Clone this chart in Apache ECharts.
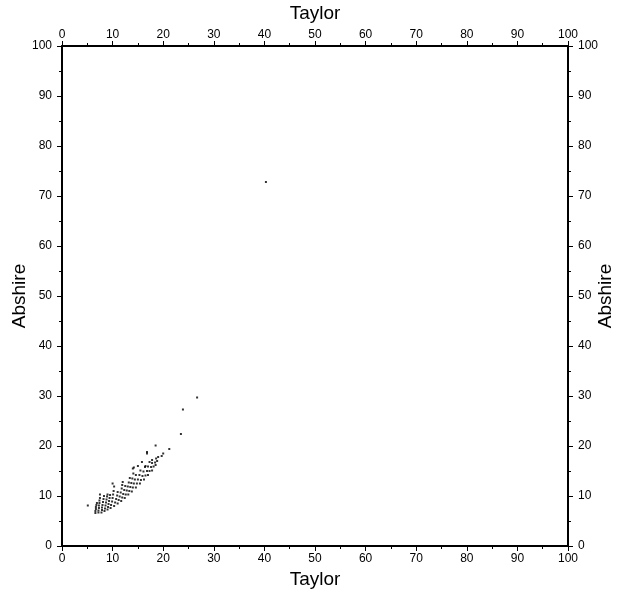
<!DOCTYPE html>
<html>
<head>
<meta charset="utf-8">
<script src="https://cdn.jsdelivr.net/npm/echarts@6/dist/echarts.min.js"></script>
<style>
  html, body { margin: 0; padding: 0; background: #fff; }
  #chart { width: 620px; height: 598px; }
</style>
</head>
<body>
<div id="chart"></div>
<script>
// Axis settings
const xTitle = 'Taylor';
const yTitle = 'Abshire';
const axisMin = 0;
const axisMax = 100;
const tickStep = 10;

// Paired measurements [Taylor, Abshire]
const pairs = [
  [6.6,6.6],[6.6,7.0],[6.7,7.4],[6.7,7.8],[6.8,8.2],[6.9,8.6],
  [7.2,6.7],[7.2,7.1],[7.3,7.6],[7.3,8.1],[7.4,8.6],[7.4,9.1],[7.5,9.6],[7.5,10.3],
  [7.8,6.7],[7.9,7.2],[7.9,7.7],[8.0,8.2],[8.1,8.8],[8.2,9.4],[8.3,10.0],
  [8.4,7.0],[8.5,7.5],[8.6,8.1],[8.7,8.7],[8.8,9.3],[8.9,9.9],[9.0,10.3],
  [9.0,7.3],[9.1,7.8],[9.2,8.4],[9.3,9.0],[9.4,9.6],[9.5,10.2],
  [9.6,7.6],[9.7,8.2],[9.9,8.9],[10.0,9.6],[10.1,10.3],[10.2,11.0],[10.3,11.9],
  [10.3,8.0],[10.5,8.7],[10.7,9.4],[10.9,10.1],[11.0,10.8],
  [11.0,8.5],[11.2,9.2],[11.4,9.9],[11.6,10.7],[11.8,11.5],[11.9,12.2],
  [11.7,9.0],[11.9,9.7],[12.1,10.4],[12.3,11.2],[12.5,12.0],
  [12.4,9.6],[12.6,10.3],[12.8,11.1],[13.0,11.9],[13.2,12.7],[13.4,13.6],
  [13.1,10.3],[13.3,11.0],[13.5,11.8],[13.7,12.6],[13.9,13.5],[14.1,14.5],
  [13.8,10.9],[14.0,11.7],[14.2,12.5],[14.4,13.3],[14.6,14.2],[14.2,15.7],
  [14.6,11.7],[14.8,12.5],[15.0,13.3],[15.3,14.2],[15.5,15.1],[15.0,16.0],
  [15.4,12.5],[15.6,13.2],[15.9,14.0],[16.1,14.9],[16.4,15.8],
  [16.2,13.3],[16.5,14.1],[16.8,15.0],[17.0,15.9],[17.3,16.8],
  [17.0,14.2],[17.3,15.0],[17.6,15.8],[17.8,16.6],
  [17.8,15.1],[18.1,15.9],[18.4,16.7],[18.6,17.5],
  [18.5,16.2],[18.8,17.0],[19.0,17.8],
  [16.8,18.5],[16.8,18.8],[18.5,20.1],[20.0,18.5],[19.7,18.0],[21.2,19.4],
  [15.8,16.8],[16.5,16.0],[17.8,17.2],[14.0,15.5],[12.0,12.8],[10.0,12.5],
  [23.5,22.4],[23.9,27.3],[26.7,29.7],[40.3,72.8],[5.1,8.1]
];

const font = 'Liberation Sans, Arial, Helvetica, sans-serif';

function valueAxis(position, name, nameGap, labelMargin, rotateName) {
  const ax = {
    type: 'value',
    position: position,
    min: axisMin,
    max: axisMax,
    interval: tickStep,
    name: name,
    nameLocation: 'middle',
    nameGap: nameGap,
    nameMoveOverlap: false,
    nameTextStyle: { fontFamily: font, fontSize: 19, color: '#000' },
    axisLine: { show: true, onZero: false, lineStyle: { color: '#000', width: 2 } },
    axisTick: { show: true, inside: false, length: 5, lineStyle: { color: '#000', width: 1 } },
    minorTick: { show: true, splitNumber: 2, length: 3, lineStyle: { color: '#000', width: 1 } },
    axisLabel: { fontFamily: font, fontSize: 12, color: '#000', margin: labelMargin },
    splitLine: { show: false }
  };
  if (rotateName !== undefined) ax.nameRotate = rotateName;
  return ax;
}

const chart = echarts.init(document.getElementById('chart'), null, { renderer: 'canvas' });
chart.setOption({
  backgroundColor: '#fff',
  animation: false,
  grid: { left: 62, right: 52, top: 46, bottom: 52, containLabel: false, outerBoundsMode: 'none' },
  xAxis: [
    valueAxis('bottom', xTitle, 24, 7),
    valueAxis('top', xTitle, 23, 5)
  ],
  yAxis: [
    valueAxis('left', yTitle, 33, 10, 90),
    valueAxis('right', yTitle, 28, 10, 90)
  ],
  series: [{
    type: 'scatter',
    xAxisIndex: 0,
    yAxisIndex: 0,
    data: pairs,
    symbol: 'rect',
    symbolSize: 2,
    itemStyle: { color: '#000' },
    silent: true
  }]
});
</script>
</body>
</html>
